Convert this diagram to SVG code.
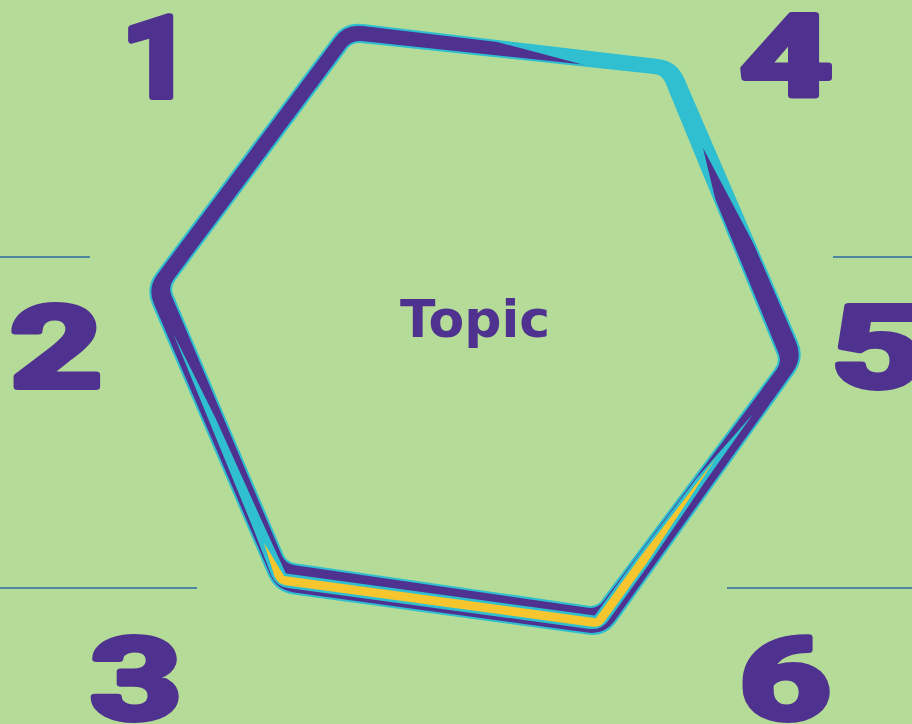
<svg xmlns="http://www.w3.org/2000/svg" width="912" height="724" viewBox="0 0 912 724">
<style>
.bg{fill:#b5db98}
.band{fill:#4f3190;fill-rule:evenodd;stroke:#2fbfd0;stroke-width:2;stroke-linejoin:round}
.cyan{fill:#2fbfd0}
.yellow{fill:#f7c52e}
.digit{font-family:Roboto,"Open Sans",sans-serif;font-weight:700;font-size:113px;fill:#4f3190;stroke:#4f3190;stroke-width:6;stroke-linejoin:round;text-anchor:middle}
.topic{font-family:"DejaVu Sans",sans-serif;font-weight:700;font-size:52px;fill:#4f3190;text-anchor:middle}
.rule{stroke:#2c6aa6;stroke-width:1.6;fill:none}
</style>
<rect class="bg" x="0" y="0" width="912" height="724"/>
<g id="dividers">
<line class="rule" x1="0" y1="257" x2="90" y2="257"/>
<line class="rule" x1="833" y1="257" x2="912" y2="257"/>
<line class="rule" x1="0" y1="588" x2="197" y2="588"/>
<line class="rule" x1="727" y1="588" x2="912" y2="588"/>
</g>
<g id="hexagon">
<path class="band" d="M362.9,25.1 L658.1,59.9 Q676,62 683.1,78.5 L796.9,341.5 Q804,358 793.5,372.7 L615.5,621.3 Q605,636 587.2,633.6 L293.8,593.4 Q276,591 268.9,574.5 L153.1,304.5 Q146,288 156.8,273.6 L334.2,37.4 Q345,23 362.9,25.1 Z M361,42 L654,73.05 Q663,74 666.4,82.3 L777.6,353.7 Q781,362 775.6,369.2 L602.4,600.8 Q597,608 588.1,606.7 L294.9,564.3 Q286,563 282.5,554.7 L172.5,295.3 Q169,287 174.4,279.8 L346.6,48.2 Q352,41 361,42 Z"/>
<path class="cyan" d="M490,40.1 L658.1,59.9 Q676,62 683.1,78.5 L759.5,255 L703,148 L716.7,205 L666.4,82.3 Q663,74 654,73.05 L588,66 Z"/>
<path class="cyan" d="M173,333 L209.3,421.4 L254.7,532.2 L271.4,575.4 Q276.1,586.4 288,588 L589.3,628.9 Q601.2,630.5 608.2,620.7 L649.2,564.1 L704.5,482.6 L753,414 L697.1,477.4 L637.8,555.9 L594.8,615.5 L285.9,573.6 L264.9,527.8 L215.7,418.6 Z"/>
<path class="yellow" d="M264,543 L274.7,576.8 Q277.9,584.1 285.8,585.2 L592.2,626.7 Q600.1,627.8 604.8,621.3 L647.2,562.6 L716,458 L639.8,557.4 L595.9,618.2 L284.1,575.9 Z"/>
</g>
<g id="topic"><text class="topic" x="475" y="337">Topic</text></g>
<g id="n1"><text class="digit" transform="translate(157,97) scale(1.1,1)">1</text></g>
<g id="n2"><text class="digit" transform="translate(56,387) scale(1.42,1)">2</text></g>
<g id="n3"><text class="digit" transform="translate(136,719) scale(1.42,1)">3</text></g>
<g id="n4"><text class="digit" transform="translate(786,96) scale(1.42,1)">4</text></g>
<g id="n5"><text class="digit" transform="translate(877,387) scale(1.42,1)">5</text></g>
<g id="n6"><text class="digit" transform="translate(785,719) scale(1.42,1)">6</text></g>
</svg>
